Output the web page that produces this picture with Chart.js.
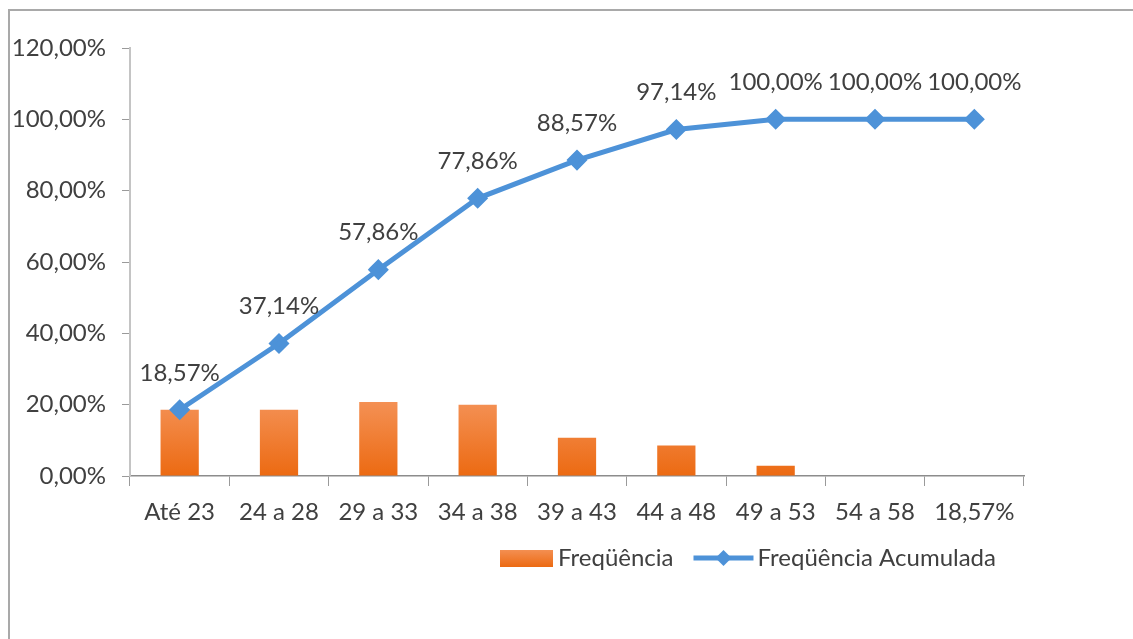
<!DOCTYPE html>
<html>
<head>
<meta charset="utf-8">
<script src="https://cdn.jsdelivr.net/npm/chart.js@4"></script>
<style>
  html, body { margin: 0; padding: 0; background: #fff; overflow: hidden; }
  .frame {
    position: absolute; left: 8px; top: 9px;
    width: 1140px; height: 640px;
    border-left: 2px solid #a9a9a9; border-top: 2px solid #a9a9a9;
    background: #fff;
  }
  #chart { display: block; }
</style>
</head>
<body>
<div class="frame">
  <canvas id="chart" width="1123" height="628"></canvas>
</div>
<script>
// faixas etárias
const categories = ['Até 23', '24 a 28', '29 a 33', '34 a 38', '39 a 43', '44 a 48', '49 a 53', '54 a 58', '18,57%'];
// valores em %
const frequencia = [18.57, 18.57, 20.72, 20.00, 10.71, 8.57, 2.86, 0, 0];
const acumulada = [18.57, 37.14, 57.86, 77.86, 88.57, 97.14, 100, 100, 100];
const yTicks = [0, 20, 40, 60, 80, 100, 120];

const FONT = 'Lato, "Open Sans", sans-serif';
const TEXT = '#404040';
const BLUE = '#4d92d8';

const fmt = (v) => v.toFixed(2).replace('.', ',') + '%';

const barFill = (ctx) => {
  const chart = ctx.chart;
  const y = chart.scales.y;
  if (!chart.chartArea || !y) return '#ee7a2f';
  const top = y.getPixelForValue(21);
  const bot = y.getPixelForValue(0);
  if (!isFinite(top) || !isFinite(bot)) return '#ee7a2f';
  const g = chart.ctx.createLinearGradient(0, top, 0, bot);
  g.addColorStop(0, '#f49155');
  g.addColorStop(1, '#ec6a12');
  return g;
};

// rótulos acima dos pontos da linha
const pointLabels = {
  id: 'pointLabels',
  afterDatasetsDraw(chart) {
    const meta = chart.getDatasetMeta(0);
    const c = chart.ctx;
    c.save();
    c.font = '24px ' + FONT;
    c.fillStyle = TEXT;
    c.textAlign = 'center';
    c.textBaseline = 'middle';
    meta.data.forEach((pt, i) => {
      c.fillText(fmt(acumulada[i]), pt.x, pt.y - 37);
    });
    c.restore();
  }
};

// legenda no estilo do Excel
const excelLegend = {
  id: 'excelLegend',
  afterDraw(chart) {
    const c = chart.ctx;
    const sets = chart.data.datasets;
    const cy = 547;
    let x = 490;
    c.save();
    c.font = '24px ' + FONT;
    c.textBaseline = 'middle';

    const g = c.createLinearGradient(0, cy - 9, 0, cy + 9);
    g.addColorStop(0, '#f49155');
    g.addColorStop(1, '#ec6a12');
    c.fillStyle = g;
    c.fillRect(x, cy - 8, 53, 17);
    x += 58;
    c.fillStyle = TEXT;
    c.fillText(sets[1].label, x, cy);
    x += c.measureText(sets[1].label).width + 20;

    c.strokeStyle = BLUE;
    c.lineWidth = 5;
    c.beginPath();
    c.moveTo(x, cy);
    c.lineTo(x + 60, cy);
    c.stroke();
    c.fillStyle = BLUE;
    c.beginPath();
    c.moveTo(x + 30, cy - 8);
    c.lineTo(x + 38, cy);
    c.lineTo(x + 30, cy + 8);
    c.lineTo(x + 22, cy);
    c.closePath();
    c.fill();
    x += 64;
    c.fillStyle = TEXT;
    c.fillText(sets[0].label, x, cy);
    c.restore();
  }
};

new Chart(document.getElementById('chart'), {
  data: {
    labels: categories,
    datasets: [
      {
        type: 'line',
        label: 'Freqüência Acumulada',
        data: acumulada,
        borderColor: BLUE,
        backgroundColor: BLUE,
        borderWidth: 5,
        pointStyle: 'rectRot',
        pointRadius: 7,
        pointHoverRadius: 7,
        tension: 0,
        order: 0
      },
      {
        type: 'bar',
        label: 'Freqüência',
        data: frequencia,
        backgroundColor: barFill,
        categoryPercentage: 1,
        barPercentage: 0.385,
        order: 1
      }
    ]
  },
  options: {
    responsive: false,
    animation: false,
    layout: { padding: { top: 37, right: 109, bottom: 103, left: 0 } },
    plugins: {
      legend: { display: false },
      tooltip: { enabled: false }
    },
    scales: {
      x: {
        offset: true,
        grid: {
          offset: true,
          drawOnChartArea: false,
          drawTicks: true,
          tickLength: 10,
          color: '#9a9a9a'
        },
        border: { color: '#8c8c8c', width: 1.5 },
        ticks: {
          color: TEXT,
          font: { family: FONT, size: 24 },
          padding: 12,
          maxRotation: 0,
          autoSkip: false
        },
        afterFit(s) { s.height = 60; }
      },
      y: {
        min: 0,
        max: 120,
        afterBuildTicks(s) { s.ticks = yTicks.map(v => ({ value: v })); },
        grid: {
          drawOnChartArea: false,
          drawTicks: true,
          tickLength: 8,
          color: '#9a9a9a'
        },
        border: { color: '#c4c4c4', width: 2 },
        ticks: {
          color: TEXT,
          font: { family: FONT, size: 24 },
          padding: 16,
          callback: (v) => fmt(v)
        },
        afterFit(s) { s.width = 120; }
      }
    }
  },
  plugins: [pointLabels, excelLegend]
});
</script>
</body>
</html>
